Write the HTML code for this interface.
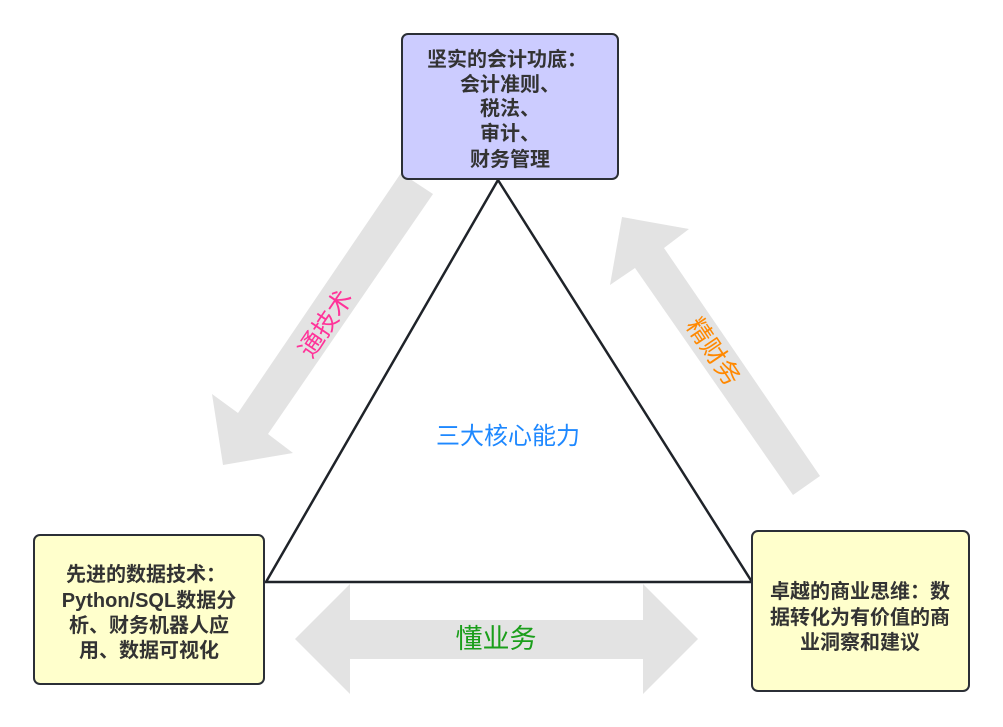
<!DOCTYPE html>
<html><head><meta charset="utf-8"><style>
html,body{margin:0;padding:0;background:#fff;}
svg{display:block}
text{font-family:"Liberation Sans","Noto Sans CJK SC",sans-serif;}
.b{font-weight:bold;font-size:20px;fill:#333;text-anchor:middle;}
</style></head><body>
<svg width="1003" height="727" viewBox="0 0 1003 727" xmlns="http://www.w3.org/2000/svg">
<polygon points="401,173 433,194 268,434 293,453 223,465 212,394 238,413" fill="#e3e3e3"/>
<polygon points="820,476 793,495 635,268 610,285 622,217 689,229 664,248" fill="#e3e3e3"/>
<polygon points="295,639 350,584 350,620 643,620 643,584 698,639 643,694 643,659 350,659 350,694" fill="#e3e3e3"/>
<polygon points="498,180 266,582 752,582" fill="none" stroke="#1f2329" stroke-width="2.5" stroke-linejoin="miter"/>
<rect x="402" y="34" width="216" height="145" rx="6" fill="#ccccff" stroke="#2b2f36" stroke-width="2"/>
<rect x="34" y="535" width="230" height="149" rx="6" fill="#ffffcc" stroke="#2b2f36" stroke-width="2"/>
<rect x="752" y="531" width="217" height="160" rx="6" fill="#ffffcc" stroke="#2b2f36" stroke-width="2"/>
<text class="b" x="507" y="66">坚实的会计功底：</text>
<text class="b" x="510" y="91">会计准则、</text>
<text class="b" x="510" y="115">税法、</text>
<text class="b" x="510" y="140">审计、</text>
<text class="b" x="510" y="166">财务管理</text>
<text class="b" x="146" y="581">先进的数据技术：</text>
<text class="b" x="149" y="607">Python/SQL数据分</text>
<text class="b" x="149" y="632">析、财务机器人应</text>
<text class="b" x="149" y="657">用、数据可视化</text>
<text class="b" x="860" y="598">卓越的商业思维：数</text>
<text class="b" x="860" y="624">据转化为有价值的商</text>
<text class="b" x="860" y="649">业洞察和建议</text>
<text x="508" y="444" font-size="24" fill="#1e88ff" text-anchor="middle">三大核心能力</text>
<text x="496" y="648" font-size="27" fill="#1a9e1a" text-anchor="middle">懂业务</text>
<text transform="translate(326,324) rotate(-56)" font-size="25" fill="#ff3399" text-anchor="middle" dominant-baseline="central">通技术</text>
<text transform="translate(713,352) rotate(56)" font-size="25" fill="#ff8800" text-anchor="middle" dominant-baseline="central">精财务</text>
</svg>
</body></html>
